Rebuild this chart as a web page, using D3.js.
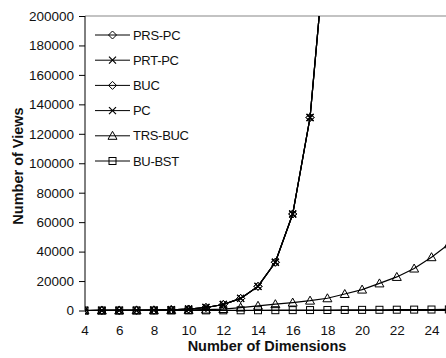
<!DOCTYPE html>
<html><head><meta charset="utf-8">
<script src="https://cdn.jsdelivr.net/npm/d3@7"></script>
<style>body{margin:0;background:#fff;} svg{display:block;} text{font-family:"Liberation Sans",Arial,sans-serif;}</style>
</head><body><svg id="c" width="446" height="358"></svg>
<script>
const dimsExp = [4,5,6,7,8,9,10,11,12,13,14,15,16,17,18];
const prsPC = [16,32,64,128,256,512,1024,2048,4096,8192,16384,32768,65536,131072,262144];
const prtPC = [16,32,64,128,256,512,1024,2048,4096,8192,16384,32768,65536,131072,262144];
const buc   = [16,32,64,128,256,512,1024,2048,4096,8192,16384,32768,65536,131072,262144];
const pc    = [16,32,64,128,256,512,1024,2048,4096,8192,16384,32768,65536,131072,262144];
const dimsAll = [4,5,6,7,8,9,10,11,12,13,14,15,16,17,18,19,20,21,22,23,24,25];
const trsBuc = [10,25,50,90,150,250,400,650,1000,2000,3200,4300,5400,6700,8300,11200,14200,18400,22800,28500,36200,45000];
const buBst  = [5,10,20,30,45,60,80,100,120,150,180,210,250,290,330,380,430,480,540,600,660,720];
const yTicks = [0,20000,40000,60000,80000,100000,120000,140000,160000,180000,200000];
const xTicks = [4,6,8,10,12,14,16,18,20,22,24];
const series = [
  {name:"PRS-PC", x:dimsExp, y:prsPC, m:"diamond"},
  {name:"PRT-PC", x:dimsExp, y:prtPC, m:"cross"},
  {name:"BUC", x:dimsExp, y:buc, m:"diamond"},
  {name:"PC", x:dimsExp, y:pc, m:"cross"},
  {name:"TRS-BUC", x:dimsAll, y:trsBuc, m:"triangle"},
  {name:"BU-BST", x:dimsAll, y:buBst, m:"square"}
];

const svg = d3.select("#c");
const L = 85, T = 16, B = 310.5;
const x = d3.scaleLinear().domain([4,24]).range([84.5,431.5]);
const y = d3.scaleLinear().domain([0,200000]).range([B,T]);

svg.append("defs").append("clipPath").attr("id","clip")
  .append("rect").attr("x",L).attr("y",T).attr("width",446-L).attr("height",358-T);

svg.append("line").attr("x1",L).attr("x2",446).attr("y1",T).attr("y2",T)
  .attr("stroke","#888").attr("stroke-width",1.2);

const ya = svg.append("g").attr("transform",`translate(${L},0)`)
  .call(d3.axisLeft(y).tickValues(yTicks).tickSize(6).tickPadding(5).tickFormat(d3.format("d")));
ya.select(".domain").attr("stroke","#000").attr("d",`M0,${T}V${B}`);
ya.selectAll("text").attr("font-size","13.5px").attr("fill","#111").attr("font-family","Liberation Sans, Arial, sans-serif");
ya.selectAll(".tick line").attr("stroke","#000");

const xa = svg.append("g").attr("transform",`translate(0,${B})`)
  .call(d3.axisBottom(x).tickValues(xTicks).tickSize(0).tickPadding(14.5));
xa.select(".domain").attr("stroke","#000").attr("d",`M${L},0H446`);
xa.selectAll("text").attr("font-size","13.5px").attr("fill","#111").attr("font-family","Liberation Sans, Arial, sans-serif");

svg.append("text").attr("x",267).attr("y",351).attr("text-anchor","middle")
  .attr("font-size","14.5px").attr("font-weight","bold").attr("fill","#111").text("Number of Dimensions");
svg.append("text").attr("transform","translate(23,166) rotate(-90)").attr("text-anchor","middle")
  .attr("font-size","14.5px").attr("font-weight","bold").attr("fill","#111").text("Number of Views");

function marker(g, type, cx, cy){
  if(type==="diamond"){
    g.append("path").attr("d",`M${cx},${cy-4}L${cx+4},${cy}L${cx},${cy+4}L${cx-4},${cy}Z`)
      .attr("fill","none").attr("stroke","#000").attr("stroke-width",1);
  } else if(type==="cross"){
    g.append("path").attr("d",`M${cx-3.5},${cy-3.5}L${cx+3.5},${cy+3.5}M${cx-3.5},${cy+3.5}L${cx+3.5},${cy-3.5}`)
      .attr("fill","none").attr("stroke","#000").attr("stroke-width",1.2);
  } else if(type==="triangle"){
    g.append("path").attr("d",`M${cx},${cy-4.5}L${cx+4.5},${cy+3.5}L${cx-4.5},${cy+3.5}Z`)
      .attr("fill","none").attr("stroke","#000").attr("stroke-width",1);
  } else {
    g.append("rect").attr("x",cx-3.5).attr("y",cy-3.5).attr("width",7).attr("height",7)
      .attr("fill","none").attr("stroke","#000").attr("stroke-width",1);
  }
}

const line = d3.line().x(d=>x(d[0])).y(d=>y(d[1]));
const plot = svg.append("g").attr("clip-path","url(#clip)");
series.forEach(s=>{
  const pts = s.x.map((d,i)=>[d,s.y[i]]);
  plot.append("path").datum(pts).attr("d",line).attr("fill","none").attr("stroke","#000").attr("stroke-width",1.2);
  const mg = plot.append("g");
  pts.filter(p=>p[1]<=200000).forEach(p=>marker(mg, s.m, x(p[0]), y(p[1])));
});

const lg = svg.append("g");
series.forEach((s,i)=>{
  const yy = 35 + i*25.2;
  lg.append("line").attr("x1",95).attr("x2",130).attr("y1",yy).attr("y2",yy).attr("stroke","#000").attr("stroke-width",1);
  marker(lg, s.m, 112.5, yy);
  lg.append("text").attr("x",133).attr("y",yy).attr("dy","0.35em").attr("font-size","13px").attr("fill","#111").attr("letter-spacing","-0.3px").text(s.name);
});
</script></body></html>
